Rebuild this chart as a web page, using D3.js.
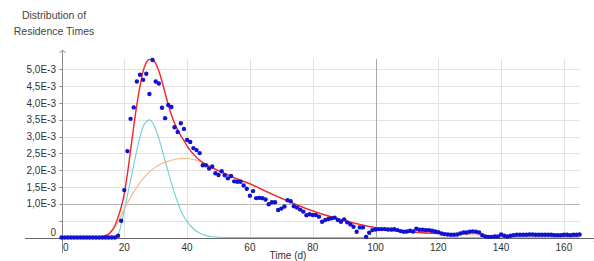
<!DOCTYPE html>
<html><head><meta charset="utf-8">
<script src="https://cdn.jsdelivr.net/npm/d3@7"></script>
<style>
html,body{margin:0;padding:0;background:#fff;}
svg{display:block;font-family:"Liberation Sans",Arial,sans-serif;}
</style></head>
<body><svg id="c" width="594" height="261"></svg>
<script>
// measured residence-time distribution (units of 1e-3), one value per day starting at day 0
const measured = [
0,0,0,0,0,0,0,0,0,0,0,0,0,0,0,0,0,
0.0,0.05,0.5,1.41,2.57,3.53,3.87,4.64,4.84,4.69,4.87,4.27,5.28,4.64,4.58,3.86,3.55,3.94,3.88,
3.28,3.14,3.40,3.23,2.90,2.84,2.66,2.60,2.51,2.15,2.15,2.05,2.11,1.91,1.86,1.97,1.85,1.76,1.83,
1.67,1.66,1.66,1.55,1.45,1.24,1.38,1.17,1.18,1.17,1.13,0.99,1.05,1.05,0.82,0.86,0.92,1.11,1.08,
0.93,0.89,0.83,0.77,0.66,0.69,0.67,0.67,0.62,0.47,0.52,0.55,0.57,0.59,0.52,0.47,0.54,0.45,0.39,
0.32,0.17,0.30,0.30,0.02,0.14,0.22,0.24,0.25,0.25,0.25,0.24,0.24,0.25,0.22,0.19,0.17,0.18,0.20,
0.18,0.26,0.23,0.23,0.22,0.22,0.20,0.18,0.16,0.12,0.10,0.09,0.08,0.08,0.09,0.12,0.15,0.15,0.17,
0.18,0.17,0.15,0.07,0.03,0.02,0.02,0.03,0.03,0.09,0.05,0.03,0.05,0.07,
0.08,0.08,0.08,0.08,0.09,0.09,0.08,0.08,0.08,0.08,0.08,0.08,0.07,0.07,0.07,0.08,0.08,0.07,0.08,0.08,0.09
];
// total fit (red)
const totalDays = [0,11,13,15,16,17,18,19,20,21,22,23,24,25,26,27,28,29,30,31,32,33,34,35,36,37,38,39,40,42,44,46,48,50,55,60,65,70,75,80,85,90,95,100,105,110,115,120];
const totalVals = [0,0,0.03,0.1,0.2,0.35,0.6,0.9,1.3,1.9,2.6,3.3,3.95,4.5,4.95,5.2,5.3,5.28,5.18,4.95,4.65,4.3,3.95,3.65,3.4,3.2,3.03,2.88,2.72,2.48,2.3,2.17,2.07,1.98,1.78,1.6,1.38,1.17,0.97,0.79,0.64,0.51,0.39,0.29,0.21,0.17,0.14,0.12];
// fast component (cyan)
const fastDays = [0,17.5,18.5,19.5,20,21,22,23,24,25,26,27,28,29,30,31,32,33,34,35,36,37,38,39,40,42,44,46,48,52,165];
const fastVals = [0,0,0.2,0.6,0.8,1.25,1.7,2.15,2.6,3.0,3.3,3.45,3.5,3.42,3.22,2.95,2.62,2.28,1.95,1.62,1.32,1.05,0.8,0.62,0.48,0.26,0.13,0.06,0.02,0,0];
// slow component (orange)
const slowDays = [11,13,15,17,19,20,22,24,26,28,30,32,34,36,38,40,42,44,46,48,50,55,60,65,70,75,80,85,90,95,100,105,110,115,120,130,140,150,165];
const slowVals = [0,0.03,0.1,0.3,0.65,0.85,1.2,1.5,1.75,1.95,2.1,2.2,2.27,2.32,2.35,2.35,2.32,2.26,2.18,2.09,2.0,1.78,1.58,1.37,1.16,0.96,0.78,0.63,0.5,0.38,0.29,0.21,0.17,0.14,0.12,0.08,0.05,0.04,0.03];

const xTicks = [0,20,40,60,80,100,120,140,160];
const yTicks = [0,0.5,1,1.5,2,2.5,3,3.5,4,4.5,5];
const yLabels = ["0","","1,0E-3","1,5E-3","2,0E-3","2,5E-3","3,0E-3","3,5E-3","4,0E-3","4,5E-3","5,0E-3"];
const titleLines = ["Distribution of","Residence Times"];
const xTitle = "Time (d)";

const svg = d3.select("#c");
const x = d3.scaleLinear().domain([0,165]).range([61.5,579.6]);
const y = d3.scaleLinear().domain([0,5.31]).range([237.5,59]);

// grid
const g = svg.append("g");
g.selectAll("line.hg").data(yTicks.filter(d=>d>0)).join("line")
 .attr("x1",x(0)).attr("x2",x(165)).attr("y1",d=>Math.round(y(d))+0.5).attr("y2",d=>Math.round(y(d))+0.5)
 .attr("stroke",d=>d===1?"#b4b4b4":"#e2e2e2").attr("stroke-width",1);
g.selectAll("line.vg").data(xTicks.filter(d=>d>0)).join("line")
 .attr("x1",d=>Math.round(x(d))+0.5).attr("x2",d=>Math.round(x(d))+0.5).attr("y1",y(5.31)).attr("y2",y(0))
 .attr("stroke",d=>d===100?"#a8a8a8":"#e2e2e2").attr("stroke-width",1);

// axes
const ax = Math.round(x(0))+0.5, ay = Math.round(y(0))+0.5;
svg.append("line").attr("x1",ax).attr("x2",ax).attr("y1",50).attr("y2",253).attr("stroke","#888");
svg.append("path").attr("d",`M${ax-3},${53}L${ax},${50}L${ax+3},${53}`).attr("fill","none").attr("stroke","#888");
svg.append("line").attr("x1",25).attr("x2",597).attr("y1",ay).attr("y2",ay).attr("stroke","#666");
svg.append("path").attr("d",`M${594},${ay-3}L${597},${ay}L${594},${ay+3}`).attr("fill","none").attr("stroke","#666");
svg.selectAll("line.yt").data(yTicks.filter(d=>d>0)).join("line")
 .attr("x1",ax-3).attr("x2",ax).attr("y1",d=>Math.round(y(d))+0.5).attr("y2",d=>Math.round(y(d))+0.5).attr("stroke","#888");

// tick labels
svg.selectAll("text.yl").data(yTicks).join("text")
 .attr("x",56).attr("y",(d)=>y(d)+(d===0?-2:3.5)).attr("text-anchor","end")
 .attr("font-size",10).attr("fill","#333").text((d,i)=>yLabels[i]);
svg.selectAll("text.xl").data(xTicks).join("text")
 .attr("x",d=>d===0?x(d)+1.5:x(d)).attr("y",250.5).attr("text-anchor",d=>d===0?"start":"middle")
 .attr("font-size",10).attr("fill","#333").text(d=>d);
svg.append("text").attr("x",288).attr("y",258.5).attr("text-anchor","middle").attr("font-size",10).attr("fill","#333").text(xTitle);
svg.selectAll("text.tt").data(titleLines).join("text")
 .attr("x",54).attr("y",(d,i)=>19+i*16).attr("text-anchor","middle").attr("font-size",10.5).attr("fill","#444").text(d=>d);

// curves
const line = (ds,vs)=>d3.line().curve(d3.curveMonotoneX).x((d,i)=>x(ds[i])).y(d=>y(d))(vs);
svg.append("path").attr("d",line(fastDays,fastVals)).attr("fill","none").attr("stroke","#6fd0d0").attr("stroke-width",1.1);
svg.append("path").attr("d",line(slowDays,slowVals)).attr("fill","none").attr("stroke","#f7b585").attr("stroke-width",1.1);
svg.append("path").attr("d",line(totalDays,totalVals)).attr("fill","none").attr("stroke","#f0242a").attr("stroke-width",1.4);

// measured points
svg.selectAll("circle").data(measured).join("circle")
 .attr("cx",(d,i)=>x(i)).attr("cy",d=>y(d)).attr("r",2.2).attr("fill","#1212d2");
</script></body></html>
